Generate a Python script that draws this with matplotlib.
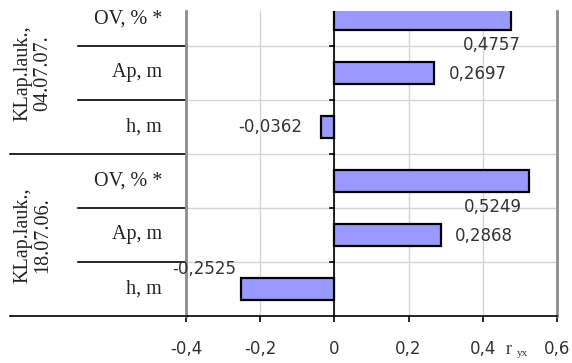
import matplotlib.pyplot as plt
import numpy as np

# data #
groups = ['KLap.lauk.,\n18.07.06.', 'KLap.lauk.,\n04.07.07.']
labels = ['h, m', 'Ap, m', 'OV, % *', 'h, m', 'Ap, m', 'OV, % *']
values = [-0.2525, 0.2868, 0.5249, -0.0362, 0.2697, 0.4757]
value_text = ['-0,2525', '0,2868', '0,5249', '-0,0362', '0,2697', '0,4757']
xticks = [-0.4, -0.2, 0, 0.2, 0.4, 0.6]
xtick_text = ['-0,4', '-0,2', '0', '0,2', '0,4', '0,6']

# label offsets in pixels (dx, dy, ha) #
offsets = [(-4, 20, 'right'), (14, -1, 'left'), (-65, -25.5, 'left'),
           (-19, 0, 'right'), (14, -1, 'left'), (-48, -26.5, 'left')]

NUMFONT = 12
CATFONT = 14.5
TXTCOLOR = '#333333'

fig = plt.figure(figsize=(5.72, 3.63), dpi=100)
ax = fig.add_axes([186/572, 47/363, 371/572, 305/363])

y = np.arange(len(values))
ax.barh(y, values, height=0.41, color='#9999ff', edgecolor='black', linewidth=1.6, zorder=3)

ax.set_xlim(-0.4, 0.6)
ax.set_ylim(-0.5, 5.5 - 19/54)

# gridlines #
for xv in xticks[1:-1]:
  ax.axvline(xv, color='#d4d4d4', lw=1, zorder=1)
for b in np.arange(0.5, 5, 1):
  ax.axhline(b, color='#d4d4d4', lw=1, zorder=1)
ax.axvline(0, color='black', lw=1.2, zorder=4)

ax.spines['top'].set_visible(False)
for s in ['left', 'right']:
  ax.spines[s].set_color('#8c8c8c')
  ax.spines[s].set_linewidth(2)
ax.spines['bottom'].set_linewidth(1.2)

ax.set_xticks(xticks)
ax.set_xticklabels(xtick_text, fontsize=NUMFONT, color=TXTCOLOR)
ax.tick_params(axis='x', direction='out', length=4.5, width=1.2, pad=13)
ax.set_yticks([])

# y axis ticks at boundaries on the zero line #
for b in np.arange(0.5, 5, 1):
  ax.plot([-0.012, 0], [b, b], color='black', lw=1.2, zorder=4, clip_on=False)

# axis name r_yx #
ax.annotate('r', xy=(0.6, -0.5), xytext=(-48, -33), textcoords='offset pixels',
            fontsize=13, ha='center', va='center', family='Liberation Serif', color=TXTCOLOR)
ax.annotate('yx', xy=(0.6, -0.5), xytext=(-35, -37), textcoords='offset pixels',
            fontsize=8, ha='center', va='center', family='Liberation Serif', color=TXTCOLOR)

# data labels #
for i, v in enumerate(values):
  dx, dy, ha = offsets[i]
  ax.annotate(value_text[i], xy=(v, y[i]), xytext=(dx, dy), textcoords='offset pixels',
              fontsize=NUMFONT, ha=ha, va='center', color=TXTCOLOR, zorder=5)

# category labels #
for i, lab in enumerate(labels):
  ax.annotate(lab, xy=(-0.4, y[i]), xytext=(-24, 0), textcoords='offset pixels',
              fontsize=CATFONT, ha='right', va='center', family='Liberation Serif',
              color='#222222')

# separator lines #
for b in [0.5, 1.5, 3.5, 4.5]:
  ax.plot([-0.4 - 108/371, -0.4], [b, b], color='black', lw=1.2, clip_on=False)
for b in [-0.5, 2.5]:
  ax.plot([-0.4 - 176/371, -0.4], [b, b], color='black', lw=1.2, clip_on=False)

# group labels #
for g, yc in zip(groups, [1.0, 4.0]):
  ax.annotate(g, xy=(-0.4, yc), xytext=(-153, 0), textcoords='offset pixels',
              fontsize=CATFONT, ha='center', va='center', rotation=90,
              family='Liberation Serif', linespacing=1.1, color='#222222')

fig.savefig('out.png', dpi=100)
